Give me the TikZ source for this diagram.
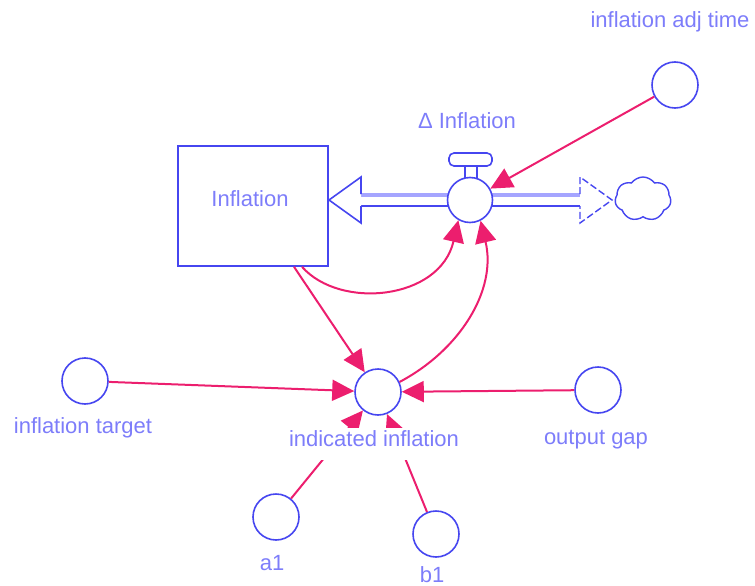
\documentclass[tikz,border=0pt]{standalone}
\usepackage{fontspec}
\setmainfont{Liberation Sans}
\usetikzlibrary{arrows.meta,shapes.symbols}
\definecolor{shp}{RGB}{70,70,240}
\definecolor{txt}{RGB}{125,125,250}
\definecolor{lnk}{RGB}{236,30,110}
\definecolor{pipeband}{RGB}{165,165,255}
\begin{document}
\begin{tikzpicture}[x=1pt,y=-1pt,
  aux/.style={circle,draw=shp,line width=1.6pt,minimum size=46pt,inner sep=0pt,fill=white},
  lbl/.style={text=txt,font=\fontsize{22}{24}\selectfont,anchor=base,inner sep=2pt},
  link/.style={draw=lnk,line width=2pt,-{Triangle[length=22pt,width=21pt]}},
  shpline/.style={draw=shp,line width=1.6pt},
]
\useasboundingbox (0,0) rectangle (755,586);
% stock
\node[shpline,minimum width=150pt,minimum height=120pt,inner sep=0pt] (stock) at (253,206) {};
\node[lbl] (stocklbl) at (250,206) {Inflation};
% pipes
\draw[pipeband,line width=4pt] (361,195) -- (580,195);
\draw[shpline] (361,206) -- (580,206);
% arrowheads of the pipe
\draw[shpline,fill=white,line join=miter] (361,194) -- (361,177) -- (329,200) -- (361,223) -- (361,206);
\draw[draw=shp,line width=1.4pt,dash pattern=on 7pt off 3pt] (580,194) -- (580,177) -- (612,200) -- (580,223) -- (580,206);
% cloud
\node[cloud,draw=shp,line width=1.4pt,cloud puffs=7,cloud puff arc=110,aspect=1.3,minimum width=56pt,minimum height=44pt,inner sep=0pt,fill=white] (cloud) at (643,199) {};
% valve
\node[shpline,minimum width=12pt,minimum height=13pt,inner sep=0pt] (stem) at (471,172) {};
\node[shpline,rounded corners=5pt,minimum width=43pt,minimum height=13pt,inner sep=0pt,fill=white] (handle) at (470.5,159.5) {};
\node[aux,minimum size=45pt] (valve) at (470,200) {};
\node[lbl] (vlbl) at (467,128) {Δ Inflation};
% auxiliaries
\node[aux] (adj) at (675,85) {};
\node[aux] (ind) at (378,392) {};
\node[aux] (target) at (85,381) {};
\node[aux] (gap) at (598,390) {};
\node[aux] (a1) at (276,517) {};
\node[aux] (b1) at (436,534) {};
% links
\draw[link] (adj) -- (valve);
\draw[link] (302,0 |- stock.south) .. controls (340,310) and (440,300) .. (valve.240);
\draw[link] (ind.25) .. controls (460,350) and (497,290) .. (valve.297);
\draw[link] (294,0 |- stock.south) -- (ind);
\draw[link] (target) -- (ind);
\draw[link] (gap) -- (ind);
\draw[link] (a1) -- (ind);
\draw[link] (b1) -- (ind);
% labels
\node[lbl] (adjlbl) at (670,28) {inflation adj time};
\node[lbl,fill=white,text depth=12pt] (indlbl) at (374,446) {indicated inflation};
\node[lbl] (targetlbl) at (83,433) {inflation target};
\node[lbl] (gaplbl) at (596,444) {output gap};
\node[lbl] (a1lbl) at (272,570) {a1};
\node[lbl] (b1lbl) at (432,582) {b1};
\end{tikzpicture}
\end{document}
